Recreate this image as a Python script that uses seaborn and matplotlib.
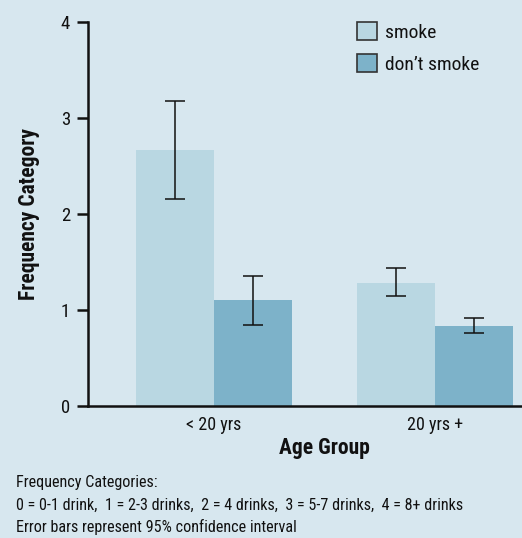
import pandas as pd
import matplotlib
matplotlib.use("Agg")
import matplotlib.pyplot as plt
from matplotlib import font_manager as fm
from matplotlib.patches import Patch
import seaborn as sns

# 데이터
age_groups = ["< 20 yrs", "20 yrs +"]
smoke_status = ["smoke", "don’t smoke"]
smoke_mean = [2.67, 1.28]
smoke_lo = [2.16, 1.15]
smoke_hi = [3.18, 1.44]
nosmoke_mean = [1.10, 0.83]
nosmoke_lo = [0.84, 0.76]
nosmoke_hi = [1.35, 0.92]

bg = "#d7e7ef"
colors = ["#b9d7e2", "#7db2c9"]
ink = "#111111"

df = pd.DataFrame({
    "age": age_groups * 2,
    "status": [smoke_status[0]] * 2 + [smoke_status[1]] * 2,
    "value": smoke_mean + nosmoke_mean,
    "lo": smoke_lo + nosmoke_lo,
    "hi": smoke_hi + nosmoke_hi,
})

# 좁은 글꼴 찾기
installed = set(f.name for f in fm.fontManager.ttflist)
font = next((f for f in ["Roboto Condensed", "Archivo Narrow", "Liberation Sans"] if f in installed), "DejaVu Sans")

sns.set_style("ticks")
plt.rcParams['font.family'] = [font, 'DejaVu Sans']
plt.rcParams['text.color'] = ink
plt.rcParams['axes.labelcolor'] = ink
plt.rcParams['xtick.color'] = ink
plt.rcParams['ytick.color'] = ink

fig = plt.figure(figsize=(5.22, 5.38), dpi=100, facecolor=bg)
ax = fig.add_axes([0.1686, 0.2454, 0.8314, 0.7136])
ax.set_facecolor(bg)

sns.barplot(data=df, x="age", y="value", hue="status", order=age_groups,
            hue_order=smoke_status, palette=colors, width=0.706,
            errorbar=None, legend=False, ax=ax, saturation=1, linewidth=0)

# 오차 막대 (95% CI)
for patch, (_, row) in zip(ax.patches, df.iterrows()):
    cx = patch.get_x() + patch.get_width() / 2
    ax.errorbar(cx, row["value"], yerr=[[row["value"] - row["lo"]], [row["hi"] - row["value"]]],
                fmt="none", ecolor=ink, elinewidth=1.1, capsize=7, capthick=1.1)

ax.set_ylim(0, 4)
ax.set_yticks([0, 1, 2, 3, 4])
ax.set_xlim(-0.57, 1.394)
sns.despine(ax=ax, top=True, right=True)
for s in ["left", "bottom"]:
    ax.spines[s].set_linewidth(1.8)
    ax.spines[s].set_color(ink)
ax.tick_params(axis="y", length=8, width=1.8, labelsize=13.5, pad=5)
ax.tick_params(axis="x", length=0, labelsize=13, pad=7)

ax.set_xlabel("Age Group", fontsize=15.5, fontweight="bold")
ax.xaxis.set_label_coords(0.545, -0.082)
ax.set_ylabel("Frequency Category", fontsize=15.5, fontweight="bold", labelpad=15)

handles = [Patch(facecolor=c, edgecolor="#333333", linewidth=1.2) for c in colors]
ax.legend(handles, smoke_status, loc="upper left", bbox_to_anchor=(0.58, 1.045),
          frameon=False, fontsize=14, handlelength=1.0, handleheight=1.0,
          handletextpad=0.45, labelspacing=0.65)

fig.text(0.031, 1 - 482 / 538, "Frequency Categories:", fontsize=11.6, va="center")
fig.text(0.031, 1 - 505 / 538,
         "0 = 0-1 drink,  1 = 2-3 drinks,  2 = 4 drinks,  3 = 5-7 drinks,  4 = 8+ drinks",
         fontsize=11.6, va="center")
fig.text(0.031, 1 - 527 / 538, "Error bars represent 95% confidence interval",
         fontsize=11.6, va="center")

fig.savefig("out.png", dpi=100, facecolor=bg)
